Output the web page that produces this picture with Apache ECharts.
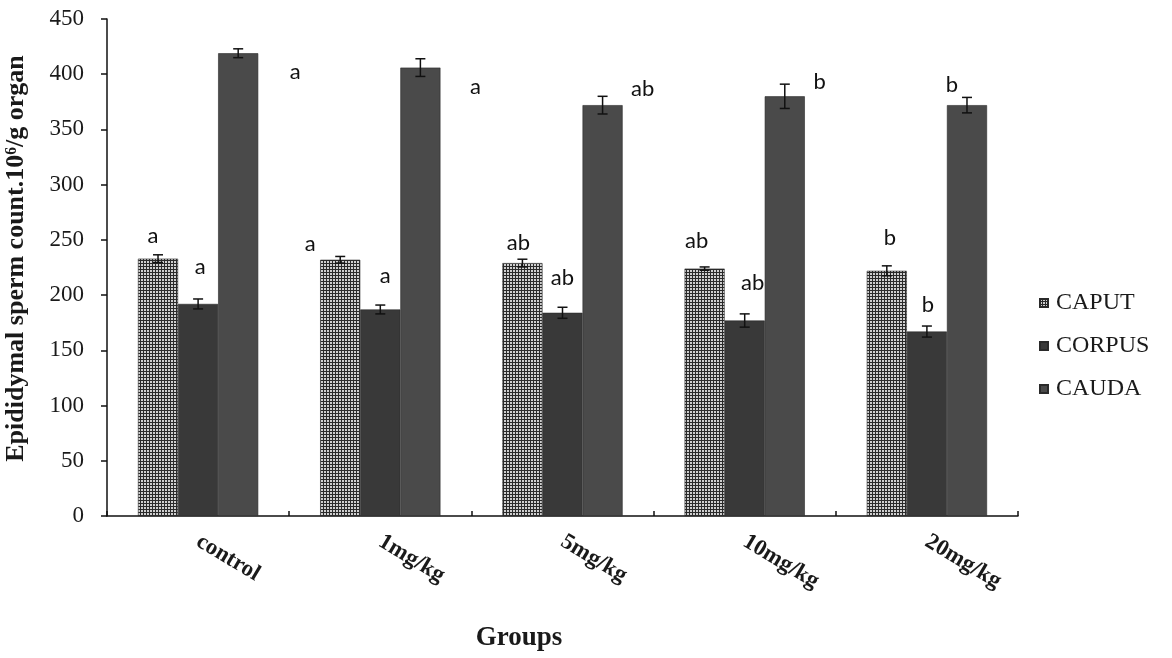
<!DOCTYPE html>
<html>
<head>
<meta charset="utf-8">
<script src="https://cdn.jsdelivr.net/npm/echarts@6/dist/echarts.min.js"></script>
<style>html,body{margin:0;padding:0;background:#fff;}#chart{width:1172px;height:658px;}</style>
</head>
<body>
<div id="chart"></div>
<script>
// ---- data ----
const categories = ['control', '1mg/kg', '5mg/kg', '10mg/kg', '20mg/kg'];
const seriesNames = ['CAPUT', 'CORPUS', 'CAUDA'];
const caput = [233, 232, 229, 224, 222];
const corpus = [192, 187, 184, 177, 167];
const cauda = [419, 406, 372, 380, 372];
const caputErr = [3.5, 3, 3.5, 1.5, 4.5];
const corpusErr = [4.5, 4, 5, 6, 5];
const caudaErr = [4, 8, 8, 11, 7];
const caputLetters = ['a', 'a', 'ab', 'ab', 'b'];
const corpusLetters = ['a', 'a', 'ab', 'ab', 'b'];
const caudaLetters = ['a', 'a', 'ab', 'b', 'b'];
const yTicks = [0, 50, 100, 150, 200, 250, 300, 350, 400, 450];

// ---- styling (label placement offsets, px) ----
const caputLabelOffset = [[-5, -23], [-30, -16], [-4, -20], [-8, -28], [3, -33]];
const corpusLabelOffset = [[2, -37], [5, -34], [0, -35], [8, -38], [1, -27]];
const caudaLabelOffset = [[57, 19], [55, 19], [40, -16], [35, -14], [-15, -20]];

function makePattern() {
  const c = document.createElement('canvas');
  c.width = 3; c.height = 3;
  const g = c.getContext('2d');
  g.fillStyle = '#2a2a2a';
  g.fillRect(0, 0, 3, 3);
  g.fillStyle = '#cfcfcf';
  g.fillRect(0, 0, 2, 2);
  return { image: c, repeat: 'repeat' };
}

const colors = [makePattern(), '#393939', '#4a4a4a'];
const values = [caput, corpus, cauda];
const errs = [caputErr, corpusErr, caudaErr];
const letters = [caputLetters, corpusLetters, caudaLetters];
const offsets = [caputLabelOffset, corpusLabelOffset, caudaLabelOffset];

const letterFont = 'Lato, "Open Sans", sans-serif';
const serif = '"Liberation Serif", "Times New Roman", serif';

const barSeries = seriesNames.map((name, s) => ({
  name: name,
  type: 'bar',
  barGap: '0%',
  barCategoryGap: '34%',
  itemStyle: { color: colors[s], borderColor: '#2a2a2a', borderWidth: 0.6 },
  label: {
    show: true,
    position: ['50%', 0],
    align: 'center',
    verticalAlign: 'middle',
    fontFamily: letterFont,
    fontSize: 22,
    color: '#111',
    formatter: p => letters[s][p.dataIndex]
  },
  data: values[s].map((v, i) => ({ value: v, label: { offset: offsets[s][i] } })),
  z: 2
}));

const errSeries = seriesNames.map((name, s) => ({
  name: name + '-err',
  type: 'custom',
  z: 5,
  silent: true,
  encode: { x: 0, y: [1, 2] },
  data: values[s].map((v, i) => [i, v, errs[s][i]]),
  renderItem: function (params, api) {
    const idx = api.value(0), v = api.value(1), e = api.value(2);
    const band = api.size([1, 0])[0];
    const bw = band * 0.66 / 3;
    const x = api.coord([idx, v])[0] + (s - 1) * bw;
    const yt = api.coord([idx, v + e])[1];
    const yb = api.coord([idx, v - e])[1];
    const cap = 5;
    const st = { stroke: '#111', lineWidth: 1.5 };
    return {
      type: 'group',
      children: [
        { type: 'line', shape: { x1: x, y1: yt, x2: x, y2: yb }, style: st },
        { type: 'line', shape: { x1: x - cap, y1: yt, x2: x + cap, y2: yt }, style: st },
        { type: 'line', shape: { x1: x - cap, y1: yb, x2: x + cap, y2: yb }, style: st }
      ]
    };
  }
}));

const chart = echarts.init(document.getElementById('chart'), null, { renderer: 'canvas' });
chart.setOption({
  backgroundColor: '#ffffff',
  animation: false,
  grid: { left: 107, right: 154, top: 19, bottom: 142, containLabel: false, outerBoundsMode: 'none' },
  legend: {
    data: seriesNames,
    orient: 'vertical',
    left: 1034,
    top: 286,
    itemGap: 19,
    itemWidth: 8,
    itemHeight: 8,
    icon: 'rect',
    textStyle: { fontFamily: serif, fontSize: 24, color: '#1a1a1a', padding: [0, 0, 0, 3] }
  },
  xAxis: {
    type: 'category',
    data: categories,
    name: 'Groups',
    nameLocation: 'middle',
    nameGap: 109,
    nameTextStyle: { fontFamily: serif, fontWeight: 'bold', fontSize: 27, color: '#1a1a1a', padding: [0, 87, 0, 0] },
    axisLine: { lineStyle: { color: '#111', width: 1.5 } },
    axisTick: { show: true, inside: true, length: 5, alignWithLabel: false, lineStyle: { color: '#111', width: 1.5 } },
    axisLabel: {
      rotate: -31,
      margin: 24,
      fontFamily: serif,
      fontWeight: 'bold',
      fontSize: 23,
      color: '#1a1a1a'
    },
    splitLine: { show: false }
  },
  yAxis: {
    type: 'value',
    min: yTicks[0],
    max: yTicks[yTicks.length - 1],
    interval: yTicks[1] - yTicks[0],
    name: 'Epididymal sperm count.10⁶/g organ',
    nameLocation: 'middle',
    nameGap: 78,
    nameTextStyle: { fontFamily: serif, fontWeight: 'bold', fontSize: 26, color: '#1a1a1a', padding: [0, 0, 0, 18] },
    axisLine: { show: true, lineStyle: { color: '#111', width: 1.5 } },
    axisTick: { show: true, inside: false, length: 6, lineStyle: { color: '#111', width: 1.5 } },
    axisLabel: { margin: 23, fontFamily: serif, fontSize: 23, color: '#1a1a1a' },
    splitLine: { show: false }
  },
  series: barSeries.concat(errSeries)
});
</script>
</body>
</html>
